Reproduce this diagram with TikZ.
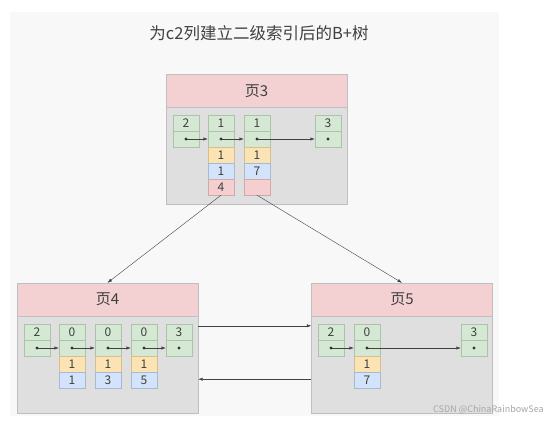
\documentclass[tikz,border=0pt]{standalone}
\usepackage{fontspec}
\setmainfont{Noto Sans CJK SC}
\usetikzlibrary{arrows.meta}

\definecolor{panel}{HTML}{F8F8F8}
\definecolor{headpink}{HTML}{F3D0D1}
\definecolor{bodygrey}{HTML}{DFDFDF}
\definecolor{keygreen}{HTML}{D5E8D4}
\definecolor{greenline}{HTML}{A9C4A6}
\definecolor{c2yellow}{HTML}{FBE3B4}
\definecolor{yellowline}{HTML}{D6BE90}
\definecolor{c1blue}{HTML}{D2E3FB}
\definecolor{blueline}{HTML}{A6BAD6}
\definecolor{pgpink}{HTML}{F5CFCF}
\definecolor{pinkline}{HTML}{D0A9A9}
\definecolor{txt}{HTML}{404040}

\begin{document}
\begin{tikzpicture}[x=1pt,y=-1pt,>={Latex[length=4.5pt,width=3.2pt]}]
	\tikzstyle{head}=[draw=black!25,fill=headpink,minimum width=181pt,minimum height=33pt,inner sep=0pt,font=\fontsize{15}{15}\selectfont,text=txt]
	\tikzstyle{body}=[draw=black!25,fill=bodygrey,minimum width=181pt,minimum height=97pt,inner sep=0pt]
	\tikzstyle{cell}=[minimum width=26pt,minimum height=16pt,inner sep=0pt,font=\fontsize{12}{12}\selectfont,text=txt]
	\tikzstyle{key}=[cell,fill=keygreen,draw=greenline]
	\tikzstyle{ctwo}=[cell,fill=c2yellow,draw=yellowline]
	\tikzstyle{cone}=[cell,fill=c1blue,draw=blueline]
	\tikzstyle{pgno}=[cell,fill=pgpink,draw=pinkline]
	\tikzstyle{link}=[draw=black!75,thin]
	\tikzstyle{dot}=[fill=black!80]

	\fill[white] (0,0) rectangle (548,422);
	\useasboundingbox (0,0) rectangle (548,422);
	\fill[panel] (10,12) rectangle (499,416);

	\node[font=\fontsize{16.5}{16.5}\selectfont,text=txt] (title) at (259,33) {为c2列建立二级索引后的B+树};

	% page 3
	\node [head] (p3head) at (256.5,91) {页3};
	\node [body] (p3body) at (256.5,155.5) {};

	\node [key] (p3a1) at (186,123) {2};
	\node [key] (p3a2) at (186,139) {};
	\node [key] (p3b1) at (221,123) {1};
	\node [key] (p3b2) at (221,139) {};
	\node [ctwo] (p3b3) at (221,155) {1};
	\node [cone] (p3b4) at (221,171) {1};
	\node [pgno] (p3b5) at (221,187) {4};
	\node [key] (p3c1) at (257,123) {1};
	\node [key] (p3c2) at (257,139) {};
	\node [ctwo] (p3c3) at (257,155) {1};
	\node [cone] (p3c4) at (257,171) {7};
	\node [pgno] (p3c5) at (257,187) {};
	\node [key] (p3d1) at (328,123) {3};
	\node [key] (p3d2) at (328,139) {};

	% page 4
	\node [head] (p4head) at (107.5,299.5) {页4};
	\node [body] (p4body) at (107.5,364.5) {};

	\node [key] (p4a1) at (37,332) {2};
	\node [key] (p4a2) at (37,348) {};
	\node [key] (p4b1) at (72,332) {0};
	\node [key] (p4b2) at (72,348) {};
	\node [ctwo] (p4b3) at (72,364) {1};
	\node [cone] (p4b4) at (72,380) {1};
	\node [key] (p4c1) at (108,332) {0};
	\node [key] (p4c2) at (108,348) {};
	\node [ctwo] (p4c3) at (108,364) {1};
	\node [cone] (p4c4) at (108,380) {3};
	\node [key] (p4d1) at (144,332) {0};
	\node [key] (p4d2) at (144,348) {};
	\node [ctwo] (p4d3) at (144,364) {1};
	\node [cone] (p4d4) at (144,380) {5};
	\node [key] (p4e1) at (179,332) {3};
	\node [key] (p4e2) at (179,348) {};

	% page 5
	\node [head] (p5head) at (402,299.5) {页5};
	\node [body] (p5body) at (402,364.5) {};

	\node [key] (p5a1) at (331,332) {2};
	\node [key] (p5a2) at (331,348) {};
	\node [key] (p5b1) at (367,332) {0};
	\node [key] (p5b2) at (367,348) {};
	\node [ctwo] (p5b3) at (367,364) {1};
	\node [cone] (p5b4) at (367,380) {7};
	\node [key] (p5c1) at (474,332) {3};
	\node [key] (p5c2) at (474,348) {};

	% next-record pointers
	\path[link,->] (p3a2.center) -- (p3b2.west);
	\path[link,->] (p3b2.center) -- (p3c2.west);
	\path[link,->] (p3c2.center) -- (p3d2.west);
	\path[link,->] (p4a2.center) -- (p4b2.west);
	\path[link,->] (p4b2.center) -- (p4c2.west);
	\path[link,->] (p4c2.center) -- (p4d2.west);
	\path[link,->] (p4d2.center) -- (p4e2.west);
	\path[link,->] (p5a2.center) -- (p5b2.west);
	\path[link,->] (p5b2.center) -- (p5c2.west);

	\fill[dot] (p3a2) circle (1.6pt);
	\fill[dot] (p3b2) circle (1.6pt);
	\fill[dot] (p3c2) circle (1.6pt);
	\fill[dot] (p3d2) circle (1.6pt);
	\fill[dot] (p4a2) circle (1.6pt);
	\fill[dot] (p4b2) circle (1.6pt);
	\fill[dot] (p4c2) circle (1.6pt);
	\fill[dot] (p4d2) circle (1.6pt);
	\fill[dot] (p4e2) circle (1.6pt);
	\fill[dot] (p5a2) circle (1.6pt);
	\fill[dot] (p5b2) circle (1.6pt);
	\fill[dot] (p5c2) circle (1.6pt);

	% child pages and sibling links
	\path[link,->] (p3b5.south) -- (p4head.north);
	\path[link,->] (p3c5.south) -- (p5head.north);
	\path[link,->] ([yshift=-10pt]p4body.north east) -- ([yshift=-10pt]p5body.north west);
	\path[link,->] ([yshift=34pt]p5body.south west) -- ([yshift=34pt]p4body.south east);

	\node[anchor=west,inner sep=0pt,font=\fontsize{9}{9}\selectfont,text=black!35] (mark) at (433,410) {CSDN @ChinaRainbowSea};
\end{tikzpicture}
\end{document}
